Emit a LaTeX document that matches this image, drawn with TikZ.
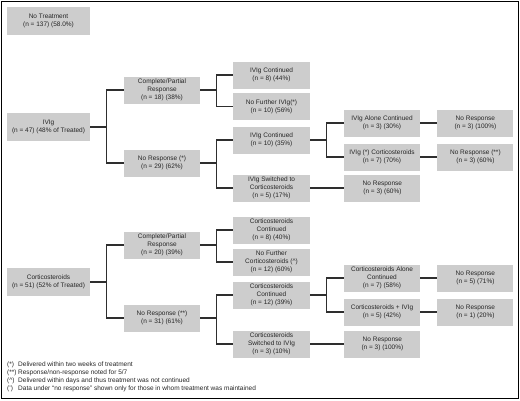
\documentclass[tikz,border=0pt]{standalone}
\usepackage{fontspec}
\setmainfont{Liberation Sans}
\usepackage{xcolor}
\usetikzlibrary{positioning}
\definecolor{BoxGray}{HTML}{CDCDCD}
\definecolor{LinkGray}{HTML}{2E2E2E}
\newcommand{\fnmark}[2]{\makebox[11pt][l]{#1}#2}

\begin{document}
\begin{tikzpicture}[
    x=1pt, y=-1pt,
    box/.style={rectangle, fill=BoxGray, minimum width=76pt, minimum height=27pt, inner sep=1pt, align=center, font=\fontsize{6.5}{8}\selectfont, text=black!85},
    widebox/.style={box, minimum width=83pt, minimum height=28pt},
    link/.style={line width=1.3pt, color=LinkGray}
]
\useasboundingbox (0,0) rectangle (520,400);
\draw[line width=1pt] (1,1) rectangle (518.5,398.5);

% first column
\node[widebox] (none) at (48.5,20.5) {No Treatment\\(n = 137) (58.0\%)};
\node[widebox] (ivig) at (48.5,127) {IVIg\\(n = 47) (48\% of Treated)};
\node[widebox] (cort) at (48.5,282) {Corticosteroids\\(n = 51) (52\% of Treated)};

% first response
\node[box] (cpA) at (162,90) {Complete/Partial\\Response\\(n = 18) (38\%)};
\node[box] (nrA) at (162,163) {No Response (*)\\(n = 29) (62\%)};
\node[box] (cpB) at (162,245) {Complete/Partial\\Response\\(n = 20) (39\%)};
\node[box] (nrB) at (162,318) {No Response (**)\\(n = 31) (61\%)};

% what came next
\node[box, minimum width=77pt] (contA) at (271.5,75) {IVIg Continued\\(n = 8) (44\%)};
\node[box, minimum width=77pt] (stopA) at (271.5,106.5) {No Further IVIg(*)\\(n = 10) (56\%)};
\node[box, minimum width=77pt] (keepA) at (271.5,140) {IVIg Continued\\(n = 10) (35\%)};
\node[box, minimum width=77pt] (swA) at (271.5,188) {IVIg Switched to\\Corticosteroids\\(n = 5) (17\%)};
\node[box, minimum width=77pt] (contB) at (271.5,230) {Corticosteroids\\Continued\\(n = 8) (40\%)};
\node[box, minimum width=77pt] (stopB) at (271.5,262) {No Further\\Corticosteroids (\^{})\\(n = 12) (60\%)};
\node[box, minimum width=77pt] (keepB) at (271.5,295) {Corticosteroids\\Continued\\(n = 12) (39\%)};
\node[box, minimum width=77pt] (swB) at (271.5,344) {Corticosteroids\\Switched to IVIg\\(n = 3) (10\%)};

% continued or combined
\node[box] (aloneA) at (382,123) {IVIg Alone Continued\\(n = 3) (30\%)};
\node[box] (bothA) at (382,157) {IVIg (*) Corticosteroids\\(n = 7) (70\%)};
\node[box, right=34pt of swA] (nrSwA) {No Response\\(n = 3) (60\%)};
\node[box] (aloneB) at (382,278) {Corticosteroids Alone\\Continued\\(n = 7) (58\%)};
\node[box] (bothB) at (382,312) {Corticosteroids + IVIg\\(n = 5) (42\%)};
\node[box, right=34pt of swB] (nrSwB) {No Response\\(n = 3) (100\%)};

% last column
\node[box, right=17pt of aloneA] (nrAloneA) {No Response\\(n = 3) (100\%)};
\node[box, right=17pt of bothA] (nrBothA) {No Response (**)\\(n = 3) (60\%)};
\node[box, right=17pt of aloneB] (nrAloneB) {No Response\\(n = 5) (71\%)};
\node[box, right=17pt of bothB] (nrBothB) {No Response\\(n = 1) (20\%)};

\foreach \i/\j in {ivig/cpA,ivig/nrA,cort/cpB,cort/nrB,cpA/contA,cpA/stopA,nrA/keepA,nrA/swA,cpB/contB,cpB/stopB,nrB/keepB,nrB/swB,keepA/aloneA,keepA/bothA,keepB/aloneB,keepB/bothB}{\draw[link] (\i.east) -- ++(16.5,0) |- (\j.west);}
\foreach \i/\j in {swA/nrSwA,swB/nrSwB,aloneA/nrAloneA,bothA/nrBothA,aloneB/nrAloneB,bothB/nrBothB}{\draw[link] (\i) -- (\j);}

% notes
\node[anchor=north west, align=left, inner sep=0pt, font=\fontsize{6.5}{8}\selectfont, text=black!85] (notes) at (7,361.5) {%
\fnmark{(*)}{Delivered within two weeks of treatment}\\
\fnmark{(**)}{Response/non-response noted for 5/7}\\
\fnmark{(\^{})}{Delivered within days and thus treatment was not continued}\\
\fnmark{(')}{Data under ``no response'' shown only for those in whom treatment was maintained}};

\end{tikzpicture}
\end{document}
